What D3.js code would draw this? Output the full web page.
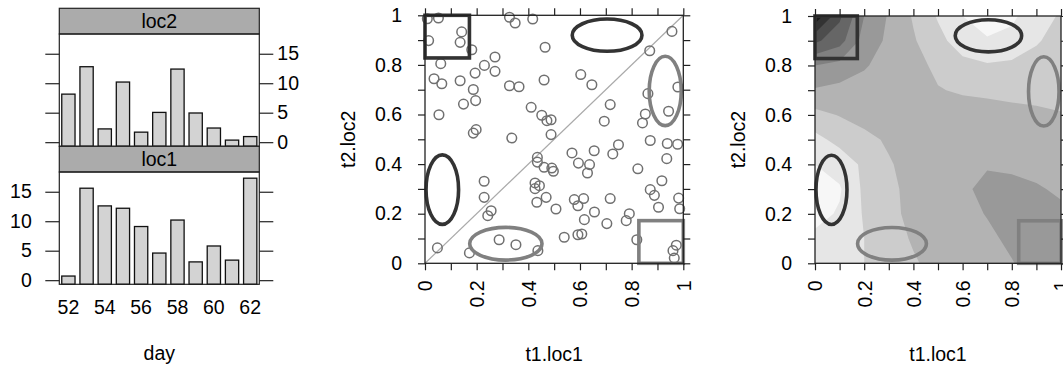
<!DOCTYPE html>
<html>
<head>
<meta charset="utf-8">
<script src="https://cdn.jsdelivr.net/npm/d3@7"></script>
<style>
  body { margin: 0; background: #fff; }
  text { font-family: "Liberation Sans", Arial, sans-serif; }
</style>
</head>
<body>
<script>
// ---- data ----
const days = [52, 53, 54, 55, 56, 57, 58, 59, 60, 61, 62];
const dayLabels = [52, 54, 56, 58, 60, 62];
const loc1Counts = [0.7, 15.6, 12.6, 12.2, 9.1, 4.6, 10.2, 3.1, 5.8, 3.4, 17.3];
const loc2Counts = [8.15, 12.8, 2.25, 10.2, 1.7, 5.05, 12.4, 4.95, 2.4, 0.35, 0.95];
const countTicks = [0, 5, 10, 15];

const t1 = [0.009, 0.052, 0.142, 0.014, 0.136, 0.181, 0.327, 0.349, 0.417, 0.465,
  0.271, 0.061, 0.230, 0.194, 0.271, 0.035, 0.065, 0.136, 0.187, 0.327,
  0.364, 0.461, 0.149, 0.196, 0.054, 0.411, 0.452, 0.472, 0.488, 0.198,
  0.187, 0.336, 0.488, 0.603, 0.646, 0.956, 0.870, 0.979, 0.863, 0.943,
  0.717, 0.694, 0.853, 0.842, 0.749, 0.872, 0.938, 0.978, 0.569, 0.655,
  0.727, 0.936, 0.594, 0.637, 0.629, 0.491, 0.497, 0.824, 0.917, 0.872,
  0.888, 0.982, 0.904, 0.986, 0.578, 0.614, 0.592, 0.717, 0.507, 0.656,
  0.617, 0.791, 0.779, 0.704, 0.539, 0.592, 0.607, 0.820, 0.973, 0.960,
  0.965, 0.435, 0.435, 0.461, 0.229, 0.426, 0.443, 0.426, 0.469, 0.433,
  0.229, 0.256, 0.243, 0.287, 0.352, 0.048, 0.172, 0.437];
const t2 = [0.986, 0.989, 0.933, 0.898, 0.891, 0.861, 0.992, 0.969, 0.985, 0.871,
  0.832, 0.805, 0.798, 0.767, 0.774, 0.744, 0.724, 0.736, 0.701, 0.716,
  0.712, 0.739, 0.642, 0.656, 0.599, 0.629, 0.597, 0.575, 0.579, 0.539,
  0.525, 0.505, 0.519, 0.761, 0.720, 0.935, 0.857, 0.711, 0.684, 0.613,
  0.640, 0.573, 0.602, 0.566, 0.478, 0.495, 0.483, 0.480, 0.445, 0.454,
  0.441, 0.422, 0.404, 0.398, 0.364, 0.384, 0.371, 0.381, 0.333, 0.297,
  0.274, 0.263, 0.226, 0.220, 0.257, 0.261, 0.232, 0.261, 0.219, 0.207,
  0.176, 0.200, 0.172, 0.160, 0.105, 0.115, 0.118, 0.095, 0.073, 0.051,
  0.021, 0.427, 0.408, 0.387, 0.331, 0.324, 0.313, 0.301, 0.266, 0.246,
  0.266, 0.212, 0.192, 0.095, 0.075, 0.062, 0.042, 0.051];

const unitTicks = [0, 0.1, 0.2, 0.3, 0.4, 0.5, 0.6, 0.7, 0.8, 0.9, 1];
const unitLabels = [0, 0.2, 0.4, 0.6, 0.8, 1];

// highlighted regions, in data units
const boxes = [
  {x0: 0, x1: 0.172, y0: 0.828, y1: 1, tone: 'dark'},
  {x0: 0.828, x1: 1, y0: 0, y1: 0.172, tone: 'light'},
];
const ellipses = [
  {cx: 0.705, cy: 0.92, rx: 0.135, ry: 0.065, tone: 'dark'},
  {cx: 0.067, cy: 0.297, rx: 0.063, ry: 0.14, tone: 'dark'},
  {cx: 0.93, cy: 0.695, rx: 0.062, ry: 0.14, tone: 'light'},
  {cx: 0.313, cy: 0.079, rx: 0.14, ry: 0.066, tone: 'light'},
];

// surface shade level on a 0.1 grid, rows from t2 = 1 (top) down to t2 = 0
const surface = [
  [0.2, 2.8, 5.0, 6.1, 7.1, 8.1, 9.0, 9.5, 9.2, 8.4, 7.9],
  [2.8, 3.6, 5.4, 6.2, 6.9, 7.7, 8.5, 8.9, 8.7, 8.1, 7.6],
  [5.0, 5.3, 5.9, 6.4, 6.7, 7.2, 7.7, 7.9, 7.8, 7.6, 7.5],
  [6.1, 6.3, 6.4, 6.5, 6.7, 6.95, 7.1, 7.15, 7.2, 7.25, 7.3],
  [7.3, 6.95, 6.6, 6.4, 6.4, 6.5, 6.6, 6.7, 6.8, 6.85, 6.95],
  [8.3, 7.7, 7.3, 6.85, 6.5, 6.4, 6.4, 6.4, 6.5, 6.55, 6.6],
  [9.0, 8.6, 7.8, 7.1, 6.6, 6.4, 6.2, 6.1, 6.2, 6.3, 6.4],
  [9.6, 9.1, 7.8, 7.15, 6.8, 6.4, 6.2, 5.7, 5.7, 5.9, 6.15],
  [9.3, 8.9, 7.9, 7.2, 6.8, 6.5, 6.3, 5.95, 5.6, 5.6, 5.8],
  [8.8, 8.7, 8.0, 7.4, 6.9, 6.6, 6.4, 6.2, 5.8, 5.5, 5.5],
  [8.4, 8.5, 8.0, 7.5, 7.1, 6.7, 6.5, 6.3, 6.05, 5.6, 5.4],
];
const levels = [0, 1, 2, 3, 4, 5, 6, 7, 8, 9];
const levelColors = ['#1a1a1a', '#333333', '#4d4d4d', '#666666', '#808080',
  '#999999', '#b3b3b3', '#cccccc', '#e6e6e6', '#f7f7f7'];

// ---- layout ----
const width = 1063;
const height = 365;
const fontSize = 19.5;
const toneColor = {dark: '#333333', light: '#808080'};

const svg = d3.create('svg')
  .attr('width', width)
  .attr('height', height);

// ===== left: lattice barchart, two panels =====
const lat = {left: 59.3, right: 259.3, top: 8.3, stripH: 25.7, panelH: 112.3};
const xDay = d3.scaleBand(days, [lat.left, lat.right])
  .paddingInner(0.27)
  .paddingOuter(0.135);

const panels = [
  {name: 'loc2', counts: loc2Counts, labelSide: 'right'},
  {name: 'loc1', counts: loc1Counts, labelSide: 'left'},
];

panels.forEach((p, i) => {
  const stripTop = lat.top + i * (lat.stripH + lat.panelH);
  const panelTop = stripTop + lat.stripH;
  const panelBottom = panelTop + lat.panelH;
  const y = d3.scaleLinear([-0.7, 18.35], [panelBottom, panelTop]);
  const g = svg.append('g');

  // strip
  g.append('rect')
    .attr('x', lat.left).attr('y', stripTop)
    .attr('width', lat.right - lat.left).attr('height', lat.stripH)
    .attr('fill', '#ababab').attr('stroke', '#222').attr('stroke-width', 1.2);
  g.append('text')
    .attr('x', (lat.left + lat.right) / 2)
    .attr('y', stripTop + lat.stripH / 2)
    .attr('dy', '0.35em')
    .attr('text-anchor', 'middle')
    .attr('font-size', fontSize)
    .text(p.name);

  // bars start from the lower panel limit
  g.append('g')
    .selectAll('rect')
    .data(p.counts)
    .join('rect')
    .attr('x', (d, j) => xDay(days[j]))
    .attr('width', xDay.bandwidth())
    .attr('y', d => y(d))
    .attr('height', d => y.range()[0] - y(d))
    .attr('fill', '#d3d3d3')
    .attr('stroke', '#111')
    .attr('stroke-width', 1.3);

  // panel border
  g.append('rect')
    .attr('x', lat.left).attr('y', panelTop)
    .attr('width', lat.right - lat.left).attr('height', lat.panelH)
    .attr('fill', 'none').attr('stroke', '#222').attr('stroke-width', 1.2);

  // y ticks on both sides, labels alternate
  const leftAxis = d3.axisLeft(y).tickValues(countTicks).tickSize(14).tickPadding(13.5);
  const rightAxis = d3.axisRight(y).tickValues(countTicks).tickSize(14).tickPadding(4);
  if (p.labelSide == 'right') leftAxis.tickFormat('');
  else rightAxis.tickFormat('');

  g.append('g')
    .attr('transform', `translate(${lat.left},0)`)
    .call(leftAxis);
  g.append('g')
    .attr('transform', `translate(${lat.right},0)`)
    .call(rightAxis);

  if (i == panels.length - 1) {
    g.append('g')
      .attr('transform', `translate(0,${panelBottom})`)
      .call(d3.axisBottom(xDay).tickValues(dayLabels).tickSize(0).tickPadding(16));
  }
});

svg.append('text')
  .attr('x', (lat.left + lat.right) / 2)
  .attr('y', 360)
  .attr('text-anchor', 'middle')
  .attr('font-size', fontSize)
  .text('day');

// ===== middle and right: unit square plots =====
function unitAxes(g, sx, sy) {
  const fmt = d => unitLabels.includes(d) ? d3.format('~g')(d) : '';
  const bottom = sy(0);
  g.append('g')
    .attr('transform', `translate(${sx(0)},0)`)
    .call(d3.axisLeft(sy).tickValues(unitTicks).tickFormat(fmt).tickSize(7).tickPadding(16));
  g.append('g')
    .attr('transform', `translate(${sx(1)},0)`)
    .call(d3.axisRight(sy).tickValues(unitTicks).tickFormat('').tickSize(7));
  g.append('g')
    .attr('transform', `translate(0,${sy(1)})`)
    .call(d3.axisTop(sx).tickValues(unitTicks).tickFormat('').tickSize(7));
  g.append('g')
    .attr('class', 'xbottom')
    .attr('transform', `translate(0,${bottom})`)
    .call(d3.axisBottom(sx).tickValues(unitTicks).tickFormat(fmt).tickSize(7))
    .selectAll('text')
    .attr('transform', 'rotate(-90)')
    .attr('text-anchor', 'end')
    .attr('x', -17)
    .attr('y', 0)
    .attr('dy', '0.35em');
}

function regionShapes(g, sx, sy) {
  g.append('g')
    .selectAll('rect')
    .data(boxes)
    .join('rect')
    .attr('x', d => sx(d.x0))
    .attr('y', d => sy(d.y1))
    .attr('width', d => sx(d.x1) - sx(d.x0))
    .attr('height', d => sy(d.y0) - sy(d.y1))
    .attr('fill', 'none')
    .attr('stroke', d => toneColor[d.tone])
    .attr('stroke-width', 3.6);
  g.append('g')
    .selectAll('ellipse')
    .data(ellipses)
    .join('ellipse')
    .attr('cx', d => sx(d.cx))
    .attr('cy', d => sy(d.cy))
    .attr('rx', d => sx(d.rx) - sx(0))
    .attr('ry', d => sy(0) - sy(d.ry))
    .attr('fill', 'none')
    .attr('stroke', d => toneColor[d.tone])
    .attr('stroke-width', 3.6);
}

// y title sits a fixed distance left of its axis
function axisTitles(sx, sy) {
  svg.append('text')
    .attr('x', (sx(0) + sx(1)) / 2)
    .attr('y', 361)
    .attr('text-anchor', 'middle')
    .attr('font-size', fontSize)
    .text('t1.loc1');
  svg.append('text')
    .attr('transform', `translate(${sx(0) - 70},${(sy(0) + sy(1)) / 2}) rotate(-90)`)
    .attr('text-anchor', 'middle')
    .attr('font-size', fontSize)
    .text('t2.loc2');
}

// --- middle: scatter ---
const sxM = d3.scaleLinear([0, 1], [425, 683.3]);
const syM = d3.scaleLinear([0, 1], [263.3, 15.3]);
const gM = svg.append('g');

gM.append('line')
  .attr('x1', sxM(0)).attr('y1', syM(0))
  .attr('x2', sxM(1)).attr('y2', syM(1))
  .attr('stroke', '#aaaaaa')
  .attr('stroke-width', 1.2);

gM.append('g')
  .selectAll('circle')
  .data(t1.map((d, i) => [d, t2[i]]))
  .join('circle')
  .attr('cx', d => sxM(d[0]))
  .attr('cy', d => syM(d[1]))
  .attr('r', 4.8)
  .attr('fill', 'none')
  .attr('stroke', '#707070')
  .attr('stroke-width', 1.5);

regionShapes(gM, sxM, syM);

gM.append('rect')
  .attr('x', sxM(0)).attr('y', syM(1))
  .attr('width', sxM(1) - sxM(0)).attr('height', syM(0) - syM(1))
  .attr('fill', 'none').attr('stroke', '#222').attr('stroke-width', 1.3);

unitAxes(gM, sxM, syM);
axisTitles(sxM, syM);

// --- right: filled contour surface ---
const sxR = d3.scaleLinear([0, 1], [815, 1061]);
const syR = d3.scaleLinear([0, 1], [263.3, 16]);
const gR = svg.append('g');
const n = surface[0].length;

gR.append('clipPath')
  .attr('id', 'clipR')
  .append('rect')
  .attr('x', sxR(0)).attr('y', syR(1))
  .attr('width', sxR(1) - sxR(0)).attr('height', syR(0) - syR(1));

const contours = d3.contours()
  .size([n, surface.length])
  .thresholds(levels)(surface.flat());

const gridToPx = d3.geoTransform({
  point: function(x, y) {
    this.stream.point(sxR((x - 0.5) / (n - 1)), syR(1 - (y - 0.5) / (surface.length - 1)));
  }
});

gR.append('g')
  .attr('clip-path', 'url(#clipR)')
  .selectAll('path')
  .data(contours)
  .join('path')
  .attr('d', d3.geoPath(gridToPx))
  .attr('fill', (d, i) => levelColors[i])
  .attr('stroke', 'none');

regionShapes(gR, sxR, syR);

gR.append('rect')
  .attr('x', sxR(0)).attr('y', syR(1))
  .attr('width', sxR(1) - sxR(0)).attr('height', syR(0) - syR(1))
  .attr('fill', 'none').attr('stroke', '#222').attr('stroke-width', 1.3);

unitAxes(gR, sxR, syR);
axisTitles(sxR, syR);

// common axis styling
svg.selectAll('.domain').remove();
svg.selectAll('.tick line').attr('stroke', '#222').attr('stroke-width', 1.2);
svg.selectAll('.tick text')
  .attr('font-size', fontSize)
  .attr('font-family', '"Liberation Sans", Arial, sans-serif')
  .attr('fill', '#000');

document.body.append(svg.node());
</script>
</body>
</html>
